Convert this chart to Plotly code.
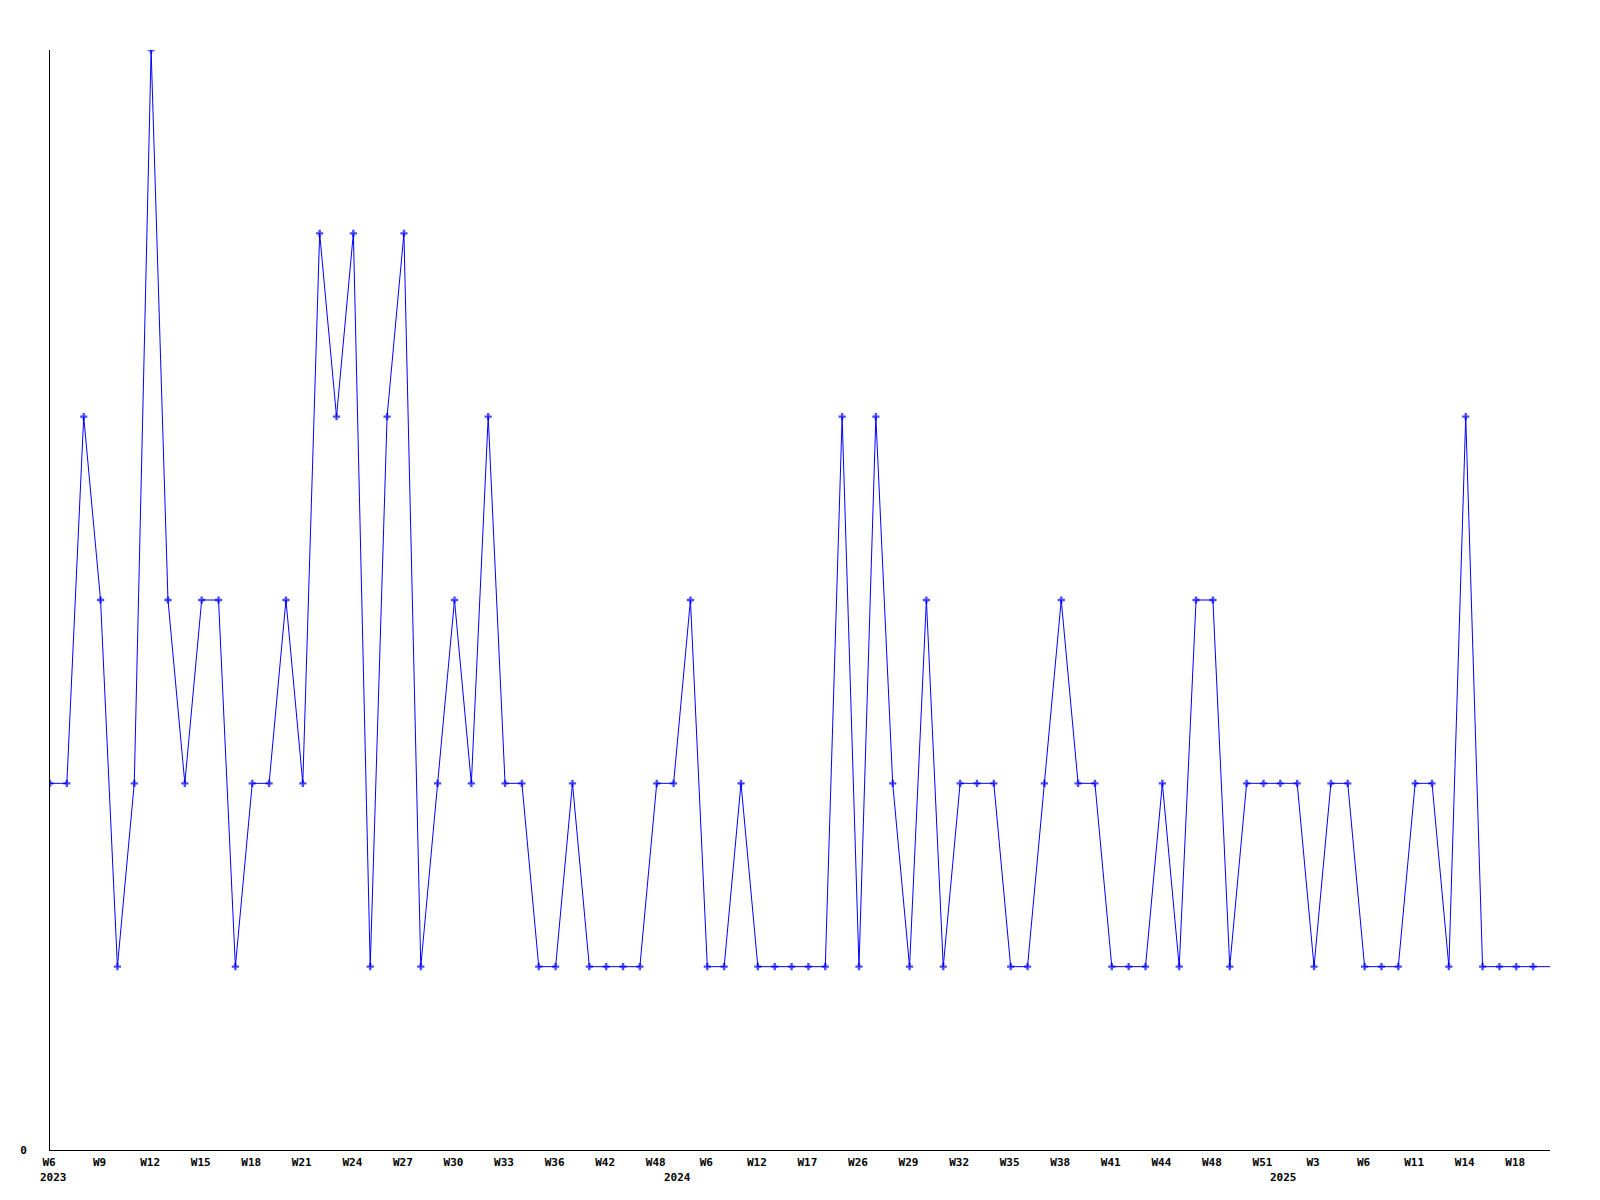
import plotly.graph_objects as go

# Weeks (each point is a week with data); unlabeled weeks are estimated
weeks = [
    "2023-W06", "2023-W07", "2023-W08", "2023-W09", "2023-W10", "2023-W11",
    "2023-W12", "2023-W13", "2023-W14", "2023-W15", "2023-W16", "2023-W17",
    "2023-W18", "2023-W19", "2023-W20", "2023-W21", "2023-W22", "2023-W23",
    "2023-W24", "2023-W25", "2023-W26", "2023-W27", "2023-W28", "2023-W29",
    "2023-W30", "2023-W31", "2023-W32", "2023-W33", "2023-W34", "2023-W35",
    "2023-W36", "2023-W37", "2023-W39", "2023-W42", "2023-W44", "2023-W46",
    "2023-W48", "2024-W01", "2024-W04", "2024-W06", "2024-W08", "2024-W10",
    "2024-W12", "2024-W14", "2024-W16", "2024-W17", "2024-W20", "2024-W23",
    "2024-W26", "2024-W27", "2024-W28", "2024-W29", "2024-W30", "2024-W31",
    "2024-W32", "2024-W33", "2024-W34", "2024-W35", "2024-W36", "2024-W37",
    "2024-W38", "2024-W39", "2024-W40", "2024-W41", "2024-W42", "2024-W43",
    "2024-W44", "2024-W45", "2024-W47", "2024-W48", "2024-W49", "2024-W50",
    "2024-W51", "2025-W01", "2025-W02", "2025-W03", "2025-W04", "2025-W05",
    "2025-W06", "2025-W08", "2025-W09", "2025-W11", "2025-W12", "2025-W13",
    "2025-W14", "2025-W15", "2025-W17", "2025-W18", "2025-W19", "2025-W20",
]

values = [
    2, 2, 4, 3, 1, 2, 6, 3, 2, 3, 3, 1, 2, 2, 3, 2, 5, 4, 5, 1,
    4, 5, 1, 2, 3, 2, 4, 2, 2, 1, 1, 2, 1, 1, 1, 1, 2, 2, 3, 1,
    1, 2, 1, 1, 1, 1, 1, 4, 1, 4, 2, 1, 3, 1, 2, 2, 2, 1, 1, 2,
    3, 2, 2, 1, 1, 1, 2, 1, 3, 3, 1, 2, 2, 2, 2, 1, 2, 2, 1, 1,
    1, 2, 2, 1, 4, 1, 1, 1, 1, 1,
]

tick_weeks = ["2023-W06", "2023-W09", "2023-W12", "2023-W15", "2023-W18", "2023-W21",
              "2023-W24", "2023-W27", "2023-W30", "2023-W33", "2023-W36", "2023-W42",
              "2023-W48", "2024-W06", "2024-W12", "2024-W17", "2024-W26", "2024-W29",
              "2024-W32", "2024-W35", "2024-W38", "2024-W41", "2024-W44", "2024-W48",
              "2024-W51", "2025-W03", "2025-W06", "2025-W11", "2025-W14", "2025-W18"]
tick_labels = ["W6", "W9", "W12", "W15", "W18", "W21", "W24", "W27", "W30", "W33",
               "W36", "W42", "W48", "W6", "W12", "W17", "W26", "W29", "W32", "W35",
               "W38", "W41", "W44", "W48", "W51", "W3", "W6", "W11", "W14", "W18"]

year_weeks = ["2023-W06", "2024-W01", "2025-W01"]
year_labels = ["2023", "2024", "2025"]

idx = list(range(len(weeks)))
pos = {w: i for i, w in enumerate(weeks)}

FONT = dict(family="DejaVu Sans Mono", size=11, color="black", weight="bold")

# last point sits on the plot edge and has no visible marker in the original
marker_sizes = [6] * (len(weeks) - 1) + [0]

fig = go.Figure()
fig.add_trace(go.Scatter(
    x=idx, y=values, mode="lines+markers",
    line=dict(color="#0000ff", width=1),
    marker=dict(symbol="cross", size=marker_sizes, color="#0000ff", line=dict(width=0)),
    hovertext=weeks, hoverinfo="text+y",
    showlegend=False,
))

for w, lab in zip(year_weeks, year_labels):
    fig.add_annotation(
        x=pos[w], y=0, xref="x", yref="paper", text=lab, showarrow=False,
        xanchor="left", yanchor="top", xshift=-12, yshift=-19, font=FONT,
    )

fig.update_layout(
    width=1584, height=1184,
    margin=dict(l=42, r=42, t=42, b=42),
    paper_bgcolor="white", plot_bgcolor="white",
    xaxis=dict(
        range=[0, len(weeks) - 1], showgrid=False, zeroline=False,
        showline=True, linecolor="black", linewidth=1,
        tickmode="array", tickvals=[pos[w] for w in tick_weeks], ticktext=tick_labels,
        ticks="", tickfont=FONT, ticklabelstandoff=2, ticklabelshift=-1,
    ),
    yaxis=dict(
        range=[0, 6], showgrid=False, zeroline=False,
        showline=True, linecolor="black", linewidth=1,
        tickmode="array", tickvals=[0], ticktext=["0"],
        ticks="", tickfont=FONT, ticklabelstandoff=20,
    ),
)

fig.write_html("out.html")
